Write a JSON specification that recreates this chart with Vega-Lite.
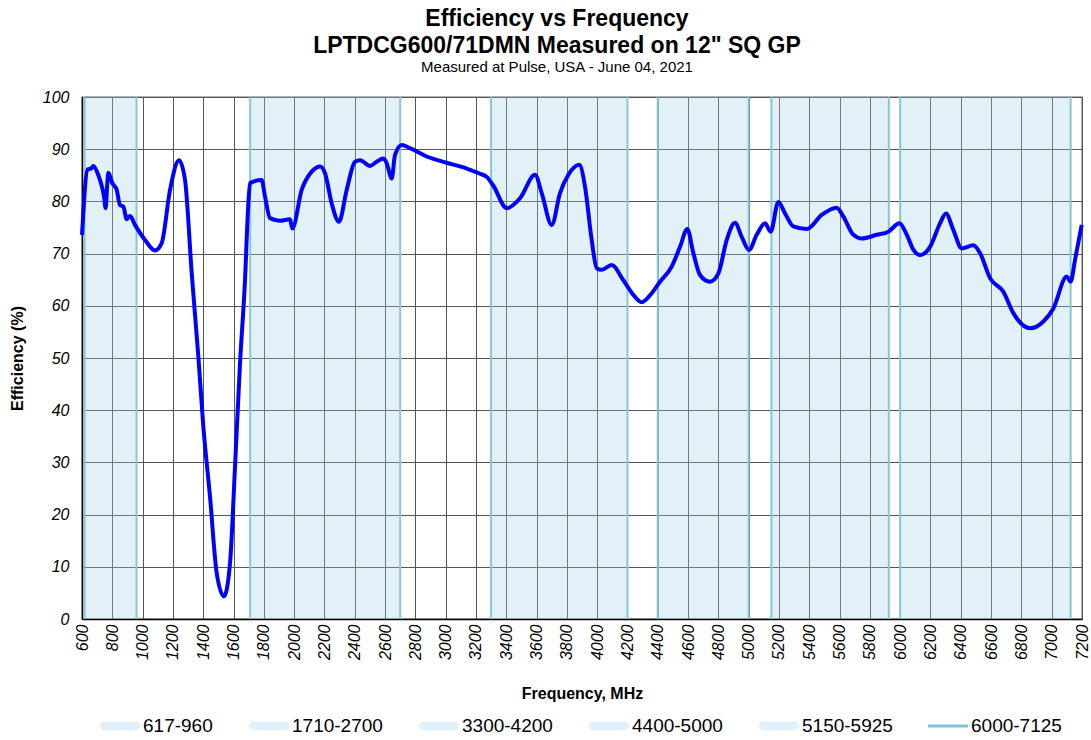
{
  "$schema": "https://vega.github.io/schema/vega-lite/v6.json",
  "width": 1000,
  "height": 522,
  "autosize": "none",
  "padding": {"left": 82, "top": 97, "right": 9, "bottom": 121},
  "background": "white",
  "title": {
    "text": ["Efficiency vs Frequency", "LPTDCG600/71DMN Measured on 12\" SQ GP"],
    "subtitle": "Measured at Pulse, USA - June 04, 2021",
    "fontSize": 23,
    "subtitleFontSize": 15,
    "font": "Liberation Sans",
    "subtitleFont": "Liberation Sans",
    "fontWeight": "bold",
    "color": "#000",
    "subtitleColor": "#000",
    "anchor": "middle",
    "dx": -25,
    "offset": 14,
    "lineHeight": 27,
    "subtitlePadding": 2
  },
  "datasets": {
    "bands": [
      {"band": "617-960", "start": 617, "end": 960},
      {"band": "1710-2700", "start": 1710, "end": 2700},
      {"band": "3300-4200", "start": 3300, "end": 4200},
      {"band": "4400-5000", "start": 4400, "end": 5000},
      {"band": "5150-5925", "start": 5150, "end": 5925},
      {"band": "6000-7125", "start": 6000, "end": 7125}
    ],
    "curve": [
      {"f": 600, "eff": 73.6}, {"f": 637, "eff": 86.1}, {"f": 660, "eff": 86.3}, {"f": 675, "eff": 86.8},
      {"f": 708, "eff": 85}, {"f": 730, "eff": 83}, {"f": 745, "eff": 81}, {"f": 756, "eff": 78.7},
      {"f": 766, "eff": 83}, {"f": 774, "eff": 85.5}, {"f": 800, "eff": 83.5}, {"f": 829, "eff": 82.2},
      {"f": 851, "eff": 79.3}, {"f": 873, "eff": 79}, {"f": 895, "eff": 76.6}, {"f": 917, "eff": 77.2},
      {"f": 950, "eff": 75.5}, {"f": 1016, "eff": 72.6}, {"f": 1082, "eff": 70.6}, {"f": 1126, "eff": 72},
      {"f": 1181, "eff": 82.2}, {"f": 1240, "eff": 87.9}, {"f": 1280, "eff": 84.1}, {"f": 1324, "eff": 66.3},
      {"f": 1368, "eff": 50.2}, {"f": 1401, "eff": 36.8}, {"f": 1445, "eff": 23.4}, {"f": 1489, "eff": 8.8},
      {"f": 1537, "eff": 4.3}, {"f": 1577, "eff": 10.7}, {"f": 1610, "eff": 29.2}, {"f": 1643, "eff": 49},
      {"f": 1676, "eff": 65}, {"f": 1695, "eff": 78}, {"f": 1709, "eff": 83.5}, {"f": 1786, "eff": 84.1},
      {"f": 1808, "eff": 80.9}, {"f": 1841, "eff": 76.8}, {"f": 1907, "eff": 76.3}, {"f": 1973, "eff": 76.6},
      {"f": 1988, "eff": 74.8}, {"f": 2050, "eff": 82.2}, {"f": 2116, "eff": 85.7}, {"f": 2171, "eff": 86.7},
      {"f": 2204, "eff": 85.4}, {"f": 2248, "eff": 79.6}, {"f": 2296, "eff": 76.1}, {"f": 2347, "eff": 82.2},
      {"f": 2402, "eff": 87.6}, {"f": 2435, "eff": 87.9}, {"f": 2501, "eff": 86.8}, {"f": 2545, "eff": 87.6},
      {"f": 2589, "eff": 88.2}, {"f": 2611, "eff": 87.3}, {"f": 2644, "eff": 84.4}, {"f": 2666, "eff": 88.9},
      {"f": 2710, "eff": 90.8}, {"f": 2765, "eff": 90.2}, {"f": 2875, "eff": 88.6}, {"f": 3007, "eff": 87.4},
      {"f": 3139, "eff": 86.3}, {"f": 3227, "eff": 85.3}, {"f": 3271, "eff": 84.7}, {"f": 3315, "eff": 83.0},
      {"f": 3403, "eff": 78.7}, {"f": 3491, "eff": 80.6}, {"f": 3590, "eff": 85.1}, {"f": 3634, "eff": 81.6},
      {"f": 3700, "eff": 75.5}, {"f": 3755, "eff": 81.6}, {"f": 3810, "eff": 85.1}, {"f": 3882, "eff": 87},
      {"f": 3920, "eff": 82.8}, {"f": 3964, "eff": 72.6}, {"f": 3997, "eff": 67.2}, {"f": 4030, "eff": 66.9},
      {"f": 4096, "eff": 67.8}, {"f": 4173, "eff": 64.9}, {"f": 4239, "eff": 62.1}, {"f": 4294, "eff": 60.7},
      {"f": 4360, "eff": 62.4}, {"f": 4415, "eff": 64.6}, {"f": 4492, "eff": 67.5}, {"f": 4547, "eff": 71.3},
      {"f": 4595, "eff": 74.7}, {"f": 4635, "eff": 70.1}, {"f": 4679, "eff": 65.9}, {"f": 4745, "eff": 64.6},
      {"f": 4800, "eff": 66.2}, {"f": 4855, "eff": 72.6}, {"f": 4910, "eff": 75.9}, {"f": 4954, "eff": 73.2},
      {"f": 5002, "eff": 70.7}, {"f": 5053, "eff": 73.6}, {"f": 5108, "eff": 75.8}, {"f": 5145, "eff": 74.2},
      {"f": 5196, "eff": 79.9}, {"f": 5240, "eff": 77.7}, {"f": 5295, "eff": 75.2}, {"f": 5383, "eff": 74.7},
      {"f": 5482, "eff": 77.4}, {"f": 5581, "eff": 78.8}, {"f": 5625, "eff": 77.1}, {"f": 5691, "eff": 73.6},
      {"f": 5746, "eff": 72.9}, {"f": 5845, "eff": 73.6}, {"f": 5922, "eff": 74.2}, {"f": 5995, "eff": 75.8},
      {"f": 6044, "eff": 73.6}, {"f": 6088, "eff": 70.7}, {"f": 6131, "eff": 69.7}, {"f": 6197, "eff": 71.3},
      {"f": 6263, "eff": 75.8}, {"f": 6302, "eff": 77.7}, {"f": 6351, "eff": 74.5}, {"f": 6406, "eff": 71},
      {"f": 6483, "eff": 71.6}, {"f": 6527, "eff": 70.1}, {"f": 6593, "eff": 65.3}, {"f": 6681, "eff": 62.7},
      {"f": 6747, "eff": 58.6}, {"f": 6857, "eff": 55.7}, {"f": 6945, "eff": 57}, {"f": 7011, "eff": 59.5},
      {"f": 7099, "eff": 65.6}, {"f": 7125, "eff": 64.6}, {"f": 7154, "eff": 68.8}, {"f": 7198, "eff": 75.5}
    ]
  },
  "layer": [
    {
      "data": {"name": "bands"},
      "mark": {"type": "rect", "fill": "#9ed0e4", "fillOpacity": 0.3},
      "encoding": {
        "x": {
          "field": "start", "type": "quantitative", "title": "Frequency, MHz",
          "scale": {"domain": [600, 7200], "nice": false, "zero": false},
          "axis": {
            "values": [600, 800, 1000, 1200, 1400, 1600, 1800, 2000, 2200, 2400, 2600, 2800, 3000, 3200, 3400, 3600, 3800, 4000, 4200, 4400, 4600, 4800, 5000, 5200, 5400, 5600, 5800, 6000, 6200, 6400, 6600, 6800, 7000, 7200],
            "labelAngle": -90, "labelPadding": 5, "labelOverlap": false, "labelBound": false, "labelFlush": false, "titlePadding": 26, "format": "d"
          }
        },
        "x2": {"field": "end"}
      }
    },
    {
      "data": {"name": "bands"},
      "mark": {"type": "point", "filled": true, "opacity": 0, "size": 1600},
      "encoding": {
        "x": {
          "field": "start", "type": "quantitative", "title": "Frequency, MHz",
          "axis": {
            "values": [600, 800, 1000, 1200, 1400, 1600, 1800, 2000, 2200, 2400, 2600, 2800, 3000, 3200, 3400, 3600, 3800, 4000, 4200, 4400, 4600, 4800, 5000, 5200, 5400, 5600, 5800, 6000, 6200, 6400, 6600, 6800, 7000, 7200],
            "labelAngle": -90, "labelPadding": 5, "labelOverlap": false, "labelBound": false, "labelFlush": false, "titlePadding": 26, "format": "d"
          }
        },
        "color": {
          "field": "band",
          "type": "nominal",
          "sort": null,
          "scale": {
            "domain": ["617-960", "1710-2700", "3300-4200", "4400-5000", "5150-5925", "6000-7125"],
            "range": ["#e2f1f7", "#e2f1f7", "#e2f1f7", "#e2f1f7", "#e2f1f7", "#7fc4d6"]
          },
          "legend": {
            "orient": "none",
            "legendX": 18,
            "legendY": 609,
            "direction": "horizontal",
            "columns": 6,
            "title": null,
            "symbolSize": 1600,
            "symbolStrokeWidth": 0,
            "symbolOpacity": 1,
            "labelFontSize": 19,
            "labelFont": "Liberation Sans",
            "labelColor": "#000",
            "columnPadding": 35,
            "labelOffset": 3,
            "encode": {
              "symbols": {
                "update": {
                  "shape": {"signal": "datum.value === '6000-7125' ? 'M-1,-0.25M-1,-0.07H1V0.07H-1ZM1,0.25' : 'M-0.78,-0.22H0.78A0.22,0.22,0,0,1,0.78,0.22H-0.78A0.22,0.22,0,0,1,-0.78,-0.22ZM-1,-0.25M1,0.25'"},
                  "stroke": {"value": "transparent"},
                  "strokeWidth": {"value": 0},
                  "size": {"value": 1600},
                  "opacity": {"value": 1},
                  "fillOpacity": {"value": 1}
                }
              }
            }
          }
        }
      }
    },
    {
      "data": {"name": "bands"},
      "mark": {"type": "rule", "color": "#86c6d8", "strokeWidth": 2},
      "encoding": {
        "x": {
          "field": "start", "type": "quantitative", "title": "Frequency, MHz",
          "axis": {
            "values": [600, 800, 1000, 1200, 1400, 1600, 1800, 2000, 2200, 2400, 2600, 2800, 3000, 3200, 3400, 3600, 3800, 4000, 4200, 4400, 4600, 4800, 5000, 5200, 5400, 5600, 5800, 6000, 6200, 6400, 6600, 6800, 7000, 7200],
            "labelAngle": -90, "labelPadding": 5, "labelOverlap": false, "labelBound": false, "labelFlush": false, "titlePadding": 26, "format": "d"
          }
        }
      }
    },
    {
      "data": {"name": "bands"},
      "mark": {"type": "rule", "color": "#86c6d8", "strokeWidth": 2},
      "encoding": {
        "x": {
          "field": "end", "type": "quantitative", "title": "Frequency, MHz",
          "axis": {
            "values": [600, 800, 1000, 1200, 1400, 1600, 1800, 2000, 2200, 2400, 2600, 2800, 3000, 3200, 3400, 3600, 3800, 4000, 4200, 4400, 4600, 4800, 5000, 5200, 5400, 5600, 5800, 6000, 6200, 6400, 6600, 6800, 7000, 7200],
            "labelAngle": -90, "labelPadding": 5, "labelOverlap": false, "labelBound": false, "labelFlush": false, "titlePadding": 26, "format": "d"
          }
        }
      }
    },
    {
      "data": {"name": "curve"},
      "mark": {"type": "line", "color": "#0000ff", "strokeWidth": 4, "interpolate": "monotone"},
      "encoding": {
        "x": {
          "field": "f",
          "type": "quantitative",
          "title": "Frequency, MHz",
          "scale": {"domain": [600, 7200], "nice": false, "zero": false},
          "axis": {
            "values": [600, 800, 1000, 1200, 1400, 1600, 1800, 2000, 2200, 2400, 2600, 2800, 3000, 3200, 3400, 3600, 3800, 4000, 4200, 4400, 4600, 4800, 5000, 5200, 5400, 5600, 5800, 6000, 6200, 6400, 6600, 6800, 7000, 7200],
            "labelAngle": -90, "labelPadding": 5, "labelOverlap": false, "labelBound": false, "labelFlush": false, "titlePadding": 26, "format": "d"
          }
        },
        "y": {
          "field": "eff",
          "type": "quantitative",
          "title": "Efficiency (%)",
          "scale": {"domain": [0, 100], "nice": false},
          "axis": {
            "values": [0, 10, 20, 30, 40, 50, 60, 70, 80, 90, 100],
            "labelPadding": 13,
            "labelFlush": false,
            "labelOverlap": false,
            "titlePadding": 17
          }
        }
      }
    }
  ],
  "config": {
    "font": "Liberation Sans",
    "view": {"stroke": "#999", "strokeWidth": 1.5},
    "axis": {
      "domainColor": "#000",
      "domainWidth": 1.5,
      "grid": true,
      "gridColor": "#555",
      "gridWidth": 1,
      "gridOpacity": 1,
      "ticks": false,
      "labelOverlap": false,
      "labelFont": "Liberation Sans",
      "labelFontStyle": "italic",
      "labelFontSize": 16,
      "labelColor": "#000",
      "titleFont": "Liberation Sans",
      "titleFontSize": 16,
      "titleFontWeight": "bold",
      "titleColor": "#000"
    },
    "axisX": {"labelOverlap": false, "labelSeparation": 0}
  }
}
